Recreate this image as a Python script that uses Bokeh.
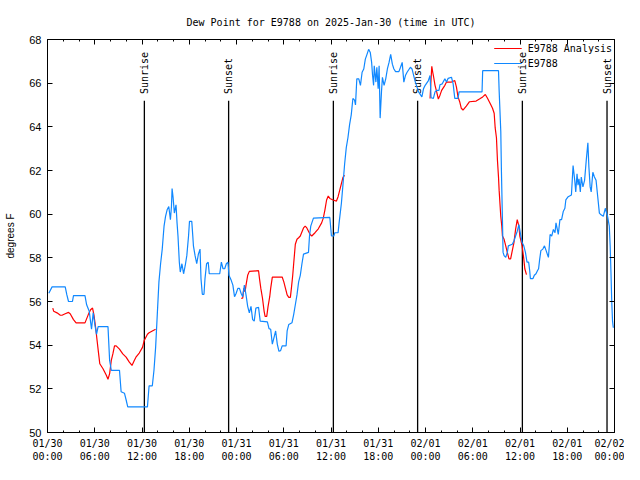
import math
from bokeh.plotting import figure
from bokeh.models import FixedTicker, LinearAxis, Range1d, Legend, LegendItem
from bokeh.core.properties import value
from bokeh.embed import file_html
from bokeh.resources import INLINE

NAN = float("nan")

TITLE = "Dew Point for E9788 on 2025-Jan-30 (time in UTC)"
Y_LABEL = "degrees F"
X_TICK_HOURS = [0, 6, 12, 18, 24, 30, 36, 42, 48, 54, 60, 66, 72]
X_TICK_LABELS = ["01/30\n00:00", "01/30\n06:00", "01/30\n12:00", "01/30\n18:00",
                 "01/31\n00:00", "01/31\n06:00", "01/31\n12:00", "01/31\n18:00",
                 "02/01\n00:00", "02/01\n06:00", "02/01\n12:00", "02/01\n18:00",
                 "02/02\n00:00"]
X_MINOR_HOURS = list(range(0, 73, 2))
Y_TICKS = [50, 52, 54, 56, 58, 60, 62, 64, 66, 68]

# Observed dew point (E9788), hours since 2025-01-30 00:00 UTC
obs_hours = [0.17, 0.58, 2.25, 2.46, 2.67, 3.17, 3.3, 4.76, 4.97, 5.3, 5.59, 5.8, 6.01, 6.22, 6.43, 7.68,
             7.89, 8.1, 9.14, 9.35, 9.77, 9.98, 10.19, 12.69, 12.9, 13.31, 13.52, 13.73, 13.94, 14.15,
             14.36, 14.57, 14.7, 14.8, 14.99, 15.19, 15.4, 15.61, 15.74, 15.82, 15.94, 16.11, 16.32,
             16.45, 16.57, 16.74, 16.86, 17.07, 17.28, 17.49, 17.69, 17.91, 18.03, 18.32, 18.45, 18.53,
             18.74, 18.95, 19.16, 19.37, 19.49, 19.66, 19.87, 20.0, 20.2, 20.41, 20.54, 21.87, 22.08,
             22.29, 22.5, 22.71, 22.92, 23.04, 23.33, 23.54, 23.75, 23.96, 24.17, 24.38, 24.58, 24.79,
             25.0, 25.21, 25.42, 25.63, 25.84, 26.05, 26.25, 26.46, 26.8, 27.01, 27.92, 28.13, 28.34,
             28.55, 28.76, 28.97, 29.18, 29.39, 29.6, 29.8, 30.3, 30.43, 30.64, 31.05, 31.26, 31.47,
             31.68, 31.89, 32.1, 32.31, 32.51, 33.14, 33.27, 33.43, 33.77, 35.85, 36.06, 36.36, 36.48,
             36.9, 37.03, 37.32, 37.53, 37.73, 37.94, 38.15, 38.36, 38.57, 38.78, 38.99, 39.11, 39.28,
             39.53, 39.74, 39.95, 40.16, 40.36, 40.57, 40.78, 40.99, 41.16, 41.28, 41.41, 41.49, 41.7,
             41.82, 41.99, 42.11, 42.24, 42.41, 42.53, 42.74, 42.95, 43.16, 43.37, 43.58, 43.79, 43.99,
             44.2, 44.62, 44.83, 45.04, 45.25, 45.45, 45.66, 46.08, 46.29, 46.5, 46.71, 46.92, 47.12,
             47.54, 47.75, 47.96, 48.37, 48.58, 48.71, 49.0, 49.21, 49.42, 49.71, 49.84, 50.13, 50.46,
             50.67, 50.88, 51.3, 51.51, 51.72, 52.13, 52.26, 55.18, 55.26, 57.27, 57.35, 57.56, 57.64,
             57.77, 57.85, 57.98, 58.19, 58.39, 58.52, 59.02, 59.23, 59.44, 59.65, 59.86, 60.07, 60.27,
             60.48, 60.69, 60.89, 61.1, 61.23, 61.32, 61.65, 61.82, 62.03, 62.23, 62.36, 62.48, 62.65,
             62.9, 63.11, 63.32, 63.53, 63.61, 63.74, 63.82, 64.03, 64.24, 64.45, 64.57, 64.74, 64.86,
             65.07, 65.28, 65.49, 65.7, 65.82, 66.12, 66.53, 66.74, 66.95, 67.08, 67.24, 67.37, 67.49,
             67.66, 67.78, 67.99, 68.2, 68.41, 68.62, 68.75, 68.91, 69.04, 69.25, 69.45, 69.66, 69.87,
             70.08, 70.29, 70.58, 70.83, 71.0, 71.12, 71.34, 71.45, 71.55, 71.65, 71.75, 71.85]
obs_dewpt = [56.38, 56.67, 56.67, 56.3, 56.0, 56.0, 56.27, 56.27, 55.85, 55.55, 54.73, 55.48, 54.95, 54.5,
             54.85, 54.85, 53.3, 52.85, 52.85, 51.87, 51.8, 51.5, 51.17, 51.17, 52.14, 52.14, 52.85,
             53.9, 55.4, 56.9, 57.73, 58.4, 59.0, 59.45, 59.9, 60.2, 60.35, 59.75, 60.35, 61.17, 60.8,
             60.05, 60.43, 59.6, 59.0, 57.8, 57.35, 57.73, 57.27, 57.65, 58.1, 59.0, 59.67, 59.67, 59.0,
             58.55, 58.1, 57.73, 58.17, 58.4, 57.05, 56.33, 56.33, 57.05, 57.73, 57.8, 57.27, 57.27,
             57.8, 57.5, 57.5, 57.73, 57.8, 57.2, 56.97, 56.75, 56.22, 56.38, 56.6, 56.6, 56.38, 56.22,
             56.75, 56.3, 55.78, 55.48, 55.78, 55.17, 55.1, 55.7, 55.73, 55.1, 55.07, 54.76, 54.73,
             54.05, 54.35, 54.65, 54.05, 53.72, 53.75, 53.97, 53.97, 54.65, 54.95, 55.03, 55.4, 55.85,
             56.3, 56.9, 57.2, 57.73, 58.17, 58.25, 59.0, 59.45, 59.82, 59.85, 59.0, 59.0, 59.15, 59.15,
             59.6, 60.5, 61.4, 62.3, 63.05, 63.5, 64.1, 64.55, 65.3, 65.22, 65.0, 66.2, 66.2, 65.9, 66.5,
             66.65, 67.1, 67.32, 67.55, 67.4, 66.95, 66.35, 65.9, 66.8, 66.05, 66.73, 65.75, 66.8, 64.4,
             65.6, 66.27, 65.9, 66.2, 66.65, 66.95, 67.32, 66.87, 66.65, 66.53, 66.53, 66.73, 66.95,
             66.05, 66.35, 66.5, 66.73, 66.65, 66.35, 66.05, 65.82, 65.6, 65.37, 65.75, 65.9, 66.12,
             66.35, 65.33, 65.3, 65.6, 65.67, 65.67, 65.93, 65.97, 66.2, 66.05, 66.22, 66.27, 65.97,
             65.3, 65.3, 65.6, 65.6, 66.57, 66.57, 65.67, 63.8, 62.0, 59.75, 58.25, 58.1, 58.02, 58.25,
             58.55, 58.62, 58.77, 59.0, 59.22, 59.52, 59.07, 58.7, 58.55, 58.25, 57.8, 57.8, 57.42,
             57.05, 57.05, 57.2, 57.27, 57.42, 57.5, 57.88, 58.33, 58.4, 58.55, 58.33, 58.1, 58.02,
             58.62, 59.07, 59.0, 59.3, 59.15, 59.6, 59.3, 59.07, 59.75, 59.75, 60.12, 60.27, 60.65,
             60.8, 60.88, 62.23, 61.55, 61.02, 61.85, 61.33, 61.62, 61.02, 61.7, 61.25, 61.55, 62.45,
             63.27, 62.15, 61.25, 61.02, 61.92, 61.7, 61.55, 60.8, 60.05, 59.97, 59.9, 60.27, 60.05,
             59.9, 59.45, 58.55, 57.35, 56.0, 55.1, 54.8]

# Analysis dew point (E9788 Analysis); NaN marks gaps in the series
ana_hours = [0.67, 0.79, 1.21, 1.63, 1.84, 2.25, 2.67, 2.88, 3.3, 3.63, 4.76, 5.18, 5.47, 5.72, 5.89, 6.14,
             6.3, 6.47, 6.64, 7.05, 7.47, 7.68, 7.89, 8.1, 8.3, 8.51, 8.72, 9.14, 9.56, 9.98, 10.39,
             10.73, 11.02, 11.23, 11.65, 12.06, 12.27, 12.69, 12.9, 13.31, 13.73,
             19.0,
             24.58, 24.79, 24.92, 25.09, 25.21, 25.42, 25.63, 26.8, 26.92, 27.09, 27.3, 27.51, 27.63,
             27.84, 28.01, 28.22, 28.34, 28.55, 29.8, 30.01, 30.22, 30.43, 30.64, 30.84, 30.97, 31.14,
             31.26, 31.47, 31.68, 31.89, 32.1, 32.51, 32.72, 32.93, 33.35, 33.56, 33.97, 34.39, 34.81,
             35.02, 35.23, 35.44, 35.65, 35.85, 36.27, 36.69, 36.9, 37.11, 37.32, 37.53, 37.73,
             43.0,
             48.58, 48.71, 48.8, 48.92, 49.0, 49.21, 49.42, 49.63, 49.84, 50.05, 50.46, 50.67, 51.3,
             51.72, 51.93, 52.13, 52.34, 52.55, 52.76, 53.18, 53.59, 54.43, 54.85, 55.26, 55.6, 55.89,
             56.1, 56.31, 56.51, 56.72, 56.85, 57.01, 57.14, 57.27, 57.35, 57.48, 57.56, 57.69, 57.77,
             57.98, 58.19, 58.39, 58.6, 58.81, 59.02, 59.23, 59.44, 59.65, 59.86, 59.98, 60.27, 60.48,
             60.61, 60.82]
ana_dewpt = [55.7, 55.55, 55.48, 55.37, 55.37, 55.44, 55.5, 55.44, 55.17, 55.02, 55.02, 55.4, 55.62, 55.7,
             55.4, 54.73, 54.2, 53.67, 53.15, 52.92, 52.62, 52.44, 52.7, 53.3, 53.6, 53.97, 53.97,
             53.82, 53.6, 53.45, 53.22, 53.07, 53.3, 53.45, 53.64, 53.9, 54.2, 54.5, 54.57, 54.65,
             54.73,
             NAN,
             56.15, 56.15, 56.6, 56.45, 56.75, 57.2, 57.38, 57.41, 57.05, 56.6, 56.15, 55.55, 55.32,
             55.32, 55.78, 56.22, 56.6, 57.12, 57.12, 56.9, 56.6, 56.3, 56.19, 56.19, 56.6, 57.2, 57.73,
             58.62, 58.85, 58.92, 59.0, 59.37, 59.45, 59.37, 59.07, 59.0, 59.15, 59.33, 59.6, 59.82,
             60.2, 60.65, 60.83, 60.72, 60.65, 60.6, 60.8, 61.1, 61.4, 61.7, 61.78,
             NAN,
             65.3, 66.2, 66.77, 66.5, 66.35, 65.9, 65.6, 65.27, 65.45, 65.67, 65.9, 66.05, 66.05, 66.12,
             65.82, 65.37, 65.15, 64.85, 64.77, 64.95, 65.15, 65.18, 65.27, 65.37, 65.48, 65.3, 65.15,
             65.0, 64.85, 64.62, 63.95, 63.5, 62.45, 61.7, 61.1, 60.35, 59.9, 59.45, 59.0, 58.85, 58.55,
             58.25, 57.95, 57.95, 58.33, 58.7, 59.3, 59.75, 59.45, 59.0, 58.55, 57.95, 57.5, 57.23]

sun_hours = [12.3, 23.0, 36.3, 47.0, 60.3, 71.05]
sun_labels = ["Sunrise", "Sunset", "Sunrise", "Sunset", "Sunrise", "Sunset"]

Y_MIN, Y_MAX = 50, 68
SUN_LINE_TOP = 65.2
SUN_LABEL_Y = 65.5

MONO = "DejaVu Sans Mono"
SANS = "Liberation Sans"
RED = "#ff0000"
BLUE = "#1088ff"

p = figure(width=624, height=464, x_range=Range1d(0, 72), y_range=Range1d(Y_MIN, Y_MAX),
           output_backend="svg", toolbar_location=None,
           min_border_left=47, min_border_right=10, min_border_top=39, min_border_bottom=31)
p.title.text = TITLE
p.title.align = "center"
p.title.text_font = MONO
p.title.text_font_size = "10px"
p.title.text_font_style = "normal"
p.title.text_color = "black"
p.title.standoff = 24

p.grid.visible = False
p.outline_line_color = "black"
p.outline_line_width = 1
p.background_fill_color = "white"
p.border_fill_color = "white"

xticker = FixedTicker(ticks=X_TICK_HOURS, minor_ticks=X_MINOR_HOURS)
yticker = FixedTicker(ticks=Y_TICKS)

xa = p.xaxis[0]
xa.ticker = xticker
xa.major_label_overrides = {h: lab for h, lab in zip(X_TICK_HOURS, X_TICK_LABELS)}
xa.major_label_text_font = MONO
xa.major_label_text_font_size = "10px"
xa.major_label_text_color = "black"
xa.major_label_standoff = 5
xa.major_tick_in = 5
xa.major_tick_out = 0
xa.minor_tick_in = 2
xa.minor_tick_out = 0
xa.axis_line_color = None

ya = p.yaxis[0]
ya.ticker = yticker
ya.axis_label = Y_LABEL
ya.axis_label_text_font = SANS
ya.axis_label_text_font_size = "10px"
ya.axis_label_text_font_style = "normal"
ya.axis_label_text_color = "black"
ya.axis_label_standoff = 10
ya.major_label_text_font = SANS
ya.major_label_text_font_size = "11px"
ya.major_label_text_color = "black"
ya.major_label_standoff = 6
ya.major_tick_in = 5
ya.major_tick_out = 0
ya.minor_tick_line_color = None
ya.axis_line_color = None

top = LinearAxis(ticker=xticker, major_label_text_color=None, major_label_text_font_size="1px",
                 major_tick_in=5, major_tick_out=0, minor_tick_in=2, minor_tick_out=0,
                 axis_line_color=None, major_label_standoff=0)
right = LinearAxis(ticker=yticker, major_label_text_color=None, major_label_text_font_size="1px",
                   major_tick_in=5, major_tick_out=0, minor_tick_line_color=None,
                   axis_line_color=None, major_label_standoff=0)
p.add_layout(top, "above")
p.add_layout(right, "right")

# sunrise / sunset markers
p.segment(x0=sun_hours, y0=[Y_MIN] * len(sun_hours), x1=sun_hours, y1=[SUN_LINE_TOP] * len(sun_hours),
          line_color="black", line_width=1.3)
p.text(x=sun_hours, y=[SUN_LABEL_Y] * len(sun_hours), text=sun_labels, angle=math.pi / 2,
       text_align="left", text_baseline="middle", text_font=value(MONO), text_font_size="10px",
       text_color="black")

r_ana = p.line(ana_hours, ana_dewpt, line_color=RED, line_width=1.2)
r_obs = p.line(obs_hours, obs_dewpt, line_color=BLUE, line_width=1.2)

legend = Legend(items=[LegendItem(label="E9788 Analysis", renderers=[r_ana]),
                       LegendItem(label="E9788", renderers=[r_obs])],
                location="top_right")
legend.background_fill_alpha = 0
legend.border_line_alpha = 0
legend.label_text_font = MONO
legend.label_text_font_size = "10px"
legend.label_text_color = "black"
legend.glyph_width = 28
legend.glyph_height = 14
legend.label_height = 14
legend.spacing = 1
legend.padding = 0
legend.margin = 2
legend.label_standoff = 6
p.add_layout(legend)

open("out.html", "w").write(file_html(p, INLINE))
